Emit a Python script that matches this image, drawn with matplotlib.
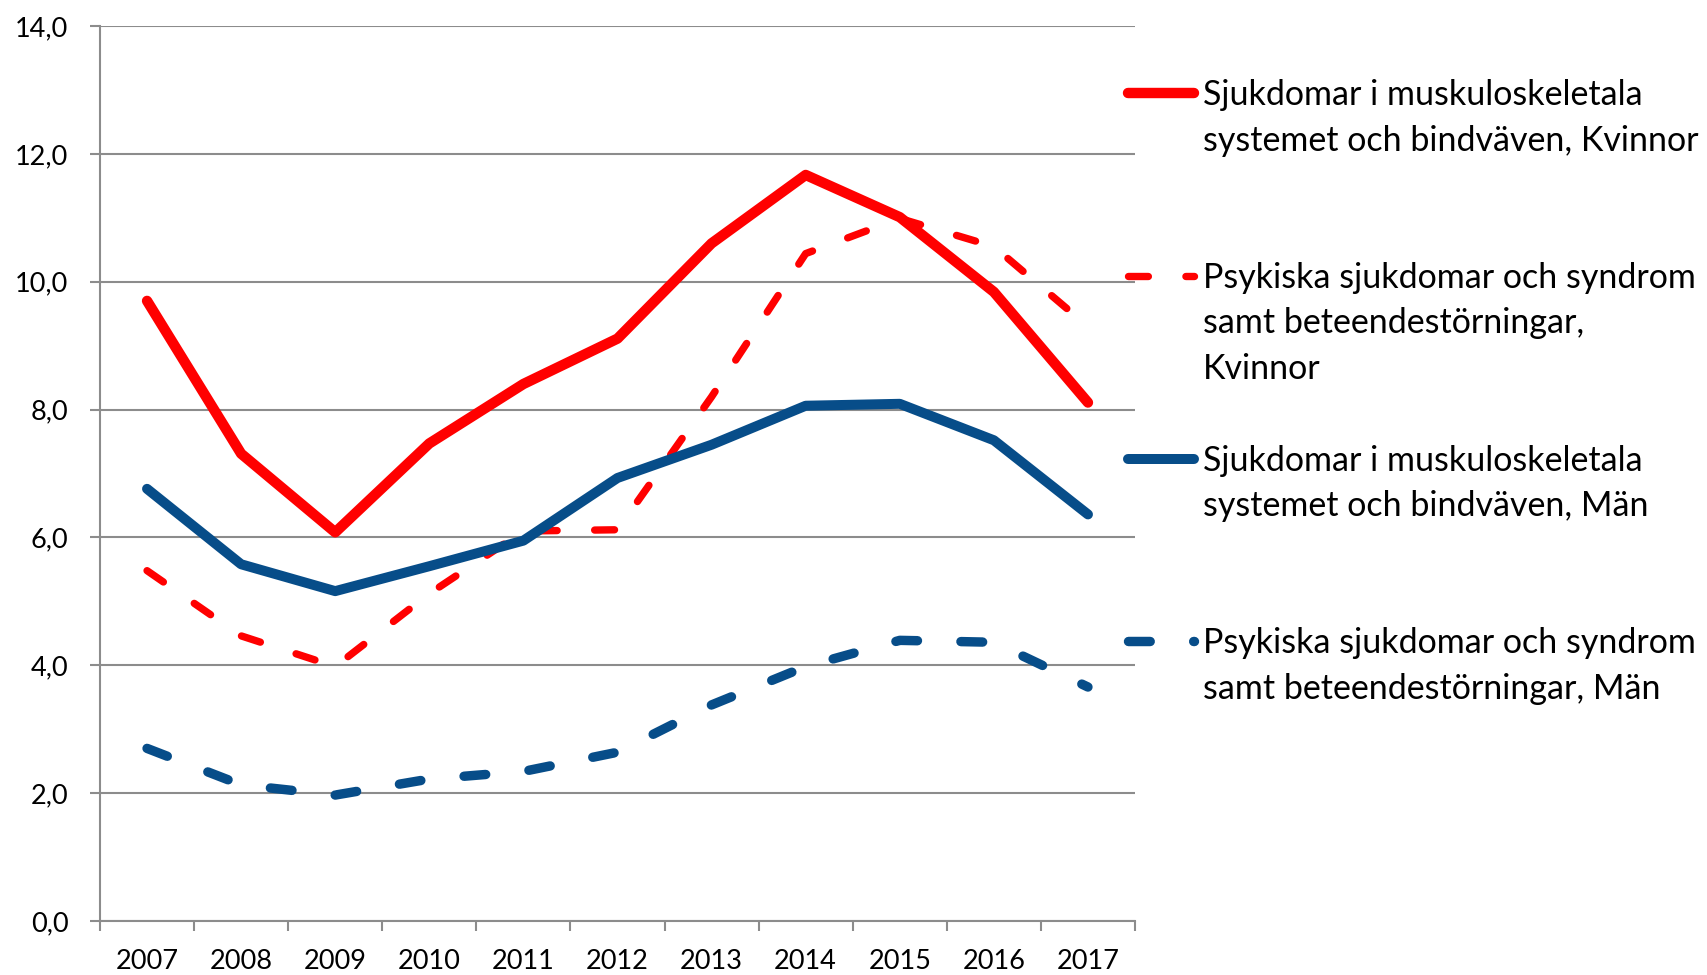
import matplotlib
matplotlib.use("Agg")
import matplotlib.pyplot as plt
from matplotlib.lines import Line2D
import numpy as np

# ---- data ----
years = ["2007", "2008", "2009", "2010", "2011", "2012", "2013", "2014", "2015", "2016", "2017"]
musk_kvinnor = [9.70, 7.31, 6.08, 7.47, 8.40, 9.11, 10.60, 11.67, 11.01, 9.84, 8.11]
psyk_kvinnor = [5.48, 4.46, 3.98, 5.12, 6.10, 6.12, 8.20, 10.44, 10.99, 10.55, 9.30]
musk_man = [6.76, 5.58, 5.16, 5.55, 5.95, 6.93, 7.45, 8.06, 8.09, 7.52, 6.36]
psyk_man = [2.70, 2.13, 1.97, 2.22, 2.34, 2.64, 3.38, 3.98, 4.39, 4.36, 3.66]
series_labels = [
    "Sjukdomar i muskuloskeletala\nsystemet och bindväven, Kvinnor",
    "Psykiska sjukdomar och syndrom\nsamt beteendestörningar,\nKvinnor",
    "Sjukdomar i muskuloskeletala\nsystemet och bindväven, Män",
    "Psykiska sjukdomar och syndrom\nsamt beteendestörningar, Män",
]
y_ticks = [0, 2, 4, 6, 8, 10, 12, 14]

RED = "#FF0000"
BLUE = "#074D89"
GRID = "#8C8C8C"
FONT = "Lato"

W, H = 1708, 975
fig = plt.figure(figsize=(W / 100, H / 100), dpi=100)
ax = fig.add_axes([100 / W, (H - 921) / H, (1135 - 100) / W, (921 - 26) / H])

x = np.arange(len(years))
styles = [
    dict(color=RED, lw=7.5, ls="-"),
    dict(color=RED, lw=5.3, dashes=(2.7, 5.1)),
    dict(color=BLUE, lw=7.2, ls="-"),
    dict(color=BLUE, lw=6.8, dashes=(2.3, 4.6)),
]
data = [musk_kvinnor, psyk_kvinnor, musk_man, psyk_man]
for vals, st in zip(data, styles):
    ax.plot(x, vals, solid_capstyle="round", dash_capstyle="round",
            solid_joinstyle="round", dash_joinstyle="round", clip_on=False, zorder=3, **st)

ax.set_xlim(-0.5, len(years) - 0.5)
ax.set_ylim(0, 14)

# y axis
ax.set_yticks(y_ticks)
ax.set_yticklabels([f"{v:.1f}".replace(".", ",") for v in y_ticks], fontsize=19.5, family=FONT)
ax.yaxis.grid(True, color=GRID, lw=1.5)
ax.tick_params(axis="y", length=7.2, width=1.5, color=GRID, pad=15.5)

# x axis
ax.set_xticks(np.arange(-0.5, len(years), 1.0))
ax.set_xticklabels([])
ax.set_xticks(x, minor=True)
ax.set_xticklabels(years, minor=True, fontsize=19.5, family=FONT)
ax.tick_params(axis="x", which="major", length=7.2, width=1.5, color=GRID)
ax.tick_params(axis="x", which="minor", length=0, pad=20.5)

for s in ["top", "right"]:
    ax.spines[s].set_visible(False)
for s in ["left", "bottom"]:
    ax.spines[s].set_color(GRID)
    ax.spines[s].set_linewidth(1.5)
ax.set_axisbelow(True)

# ---- legend (manual, Excel-like layout) ----
handle_y = [93.3, 276.0, 458.7, 641.4]
hx0, hx1 = 1123 + 5, 1199 - 5
text_x = 1203
line_step = 45.5
for hy, st, lab in zip(handle_y, styles, series_labels):
    yf = 1 - hy / H
    ln = Line2D([hx0 / W, hx1 / W], [yf, yf], transform=fig.transFigure,
                solid_capstyle="round", dash_capstyle="round", **st)
    fig.add_artist(ln)
    for i, part in enumerate(lab.split("\n")):
        fig.text(text_x / W, 1 - (hy + 12 + i * line_step) / H, part,
                 fontsize=24.5, family=FONT, va="baseline", ha="left")

fig.savefig("out.png", dpi=100)
